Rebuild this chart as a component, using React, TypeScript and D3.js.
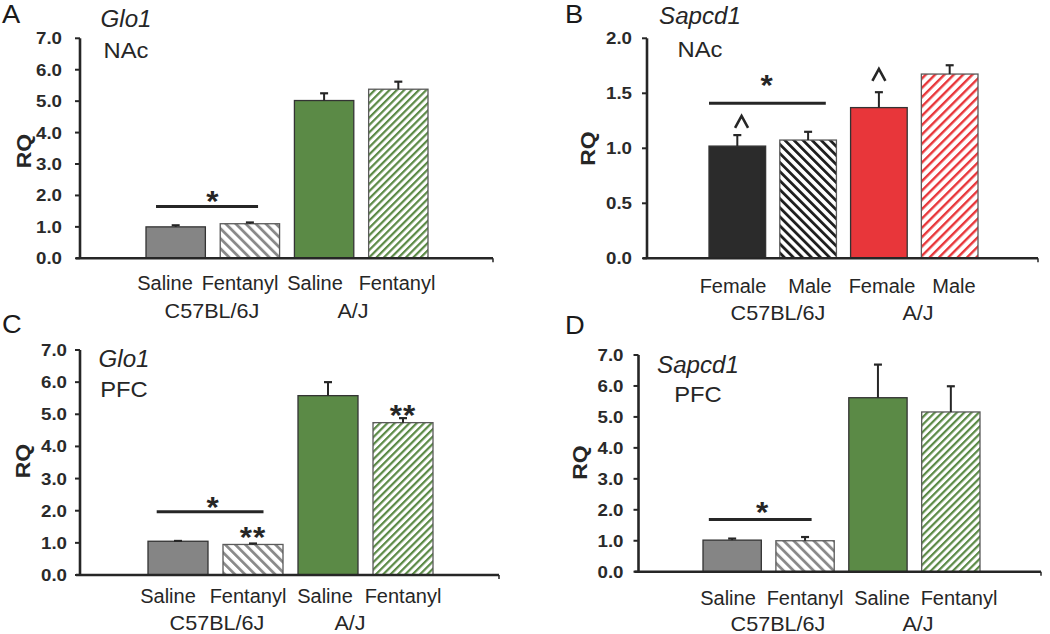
import React from "react";
import * as d3 from "d3";

// ---------- data ----------
const treatmentLabels = ["Saline", "Fentanyl", "Saline", "Fentanyl"];
const sexLabels = ["Female", "Male", "Female", "Male"];
const strainLabels = ["C57BL/6J", "A/J"];

const glo1NAcValues = [1.0, 1.1, 5.02, 5.38];
const glo1NAcErrors = [0.05, 0.04, 0.23, 0.24];
const sapcd1NAcValues = [1.02, 1.075, 1.37, 1.675];
const sapcd1NAcErrors = [0.1, 0.075, 0.14, 0.08];
const glo1PFCValues = [1.05, 0.95, 5.58, 4.74];
const glo1PFCErrors = [0.01, 0.03, 0.42, 0.14];
const sapcd1PFCValues = [1.02, 1.0, 5.62, 5.16];
const sapcd1PFCErrors = [0.05, 0.12, 1.07, 0.83];

const ticks0to7 = [0, 1, 2, 3, 4, 5, 6, 7];
const ticks0to2 = [0, 0.5, 1, 1.5, 2];

// ---------- styles ----------
const FONT = "'Liberation Sans', Arial, Helvetica, sans-serif";
const INK = "#262626";

type Fill = { color: string; hatch: string | null };
const greenFills: Fill[] = [
  { color: "#858585", hatch: null },
  { color: "url(#hGray)", hatch: "gray" },
  { color: "#5b8a46", hatch: null },
  { color: "url(#hGreen)", hatch: "green" },
];
const redFills: Fill[] = [
  { color: "#2b2b2b", hatch: null },
  { color: "url(#hBlack)", hatch: "black" },
  { color: "#e8363a", hatch: null },
  { color: "url(#hRed)", hatch: "red" },
];

type Ann =
  | { kind: "line"; u1: number; u2: number; v: number }
  | { kind: "mark"; text: string; u: number; v: number }
  | { kind: "caret"; u: number; v: number };

type PanelCfg = {
  letter: string;
  letterX: number;
  letterY: number;
  gene: string;
  region: string;
  annX: number;
  geneY: number;
  regionY: number;
  axisX: number;
  yTop: number;
  y0: number;
  xEnd: number;
  barL: number;
  barR: number;
  yMax: number;
  ticks: number[];
  tickGap: number;
  values: number[];
  errors: number[];
  cats: string[];
  fills: Fill[];
  labelX: number[];
  labelY: number;
  strainX: number[];
  strainY: number;
  rqX: number;
  rqY: number;
  anns: Ann[];
};

const panels: PanelCfg[] = [
  {
    letter: "A", letterX: 2, letterY: 23,
    gene: "Glo1", region: "NAc", annX: 126, geneY: 26.5, regionY: 57.5,
    axisX: 80, yTop: 38.3, y0: 258.3, xEnd: 493, barL: 146, barR: 428,
    yMax: 7, ticks: ticks0to7, tickGap: 18,
    values: glo1NAcValues, errors: glo1NAcErrors, cats: treatmentLabels, fills: greenFills,
    labelX: [165, 240, 315, 397], labelY: 290, strainX: [212, 353], strainY: 318,
    rqX: 24, rqY: 151,
    anns: [
      { kind: "line", u1: 0.135, u2: 1.51, v: 1.65 },
      { kind: "mark", text: "*", u: 0.9, v: 2.05 },
    ],
  },
  {
    letter: "B", letterX: 565, letterY: 22.5,
    gene: "Sapcd1", region: "NAc", annX: 700, geneY: 23.5, regionY: 56.5,
    axisX: 647, yTop: 38.3, y0: 258.3, xEnd: 1038, barL: 709, barR: 978,
    yMax: 2, ticks: ticks0to2, tickGap: 15,
    values: sapcd1NAcValues, errors: sapcd1NAcErrors, cats: sexLabels, fills: redFills,
    labelX: [733, 810, 882, 954], labelY: 293, strainX: [778, 918], strainY: 320,
    rqX: 588, rqY: 148.5,
    anns: [
      { kind: "line", u1: 0, u2: 1.65, v: 1.41 },
      { kind: "mark", text: "*", u: 0.82, v: 1.64 },
      { kind: "caret", u: 0.46, v: 1.24 },
      { kind: "caret", u: 2.4, v: 1.667 },
    ],
  },
  {
    letter: "C", letterX: 2, letterY: 333,
    gene: "Glo1", region: "PFC", annX: 124, geneY: 367, regionY: 397,
    axisX: 80, yTop: 350, y0: 575, xEnd: 499, barL: 148, barR: 433,
    yMax: 7, ticks: ticks0to7, tickGap: 13,
    values: glo1PFCValues, errors: glo1PFCErrors, cats: treatmentLabels, fills: greenFills,
    labelX: [168, 248, 325, 403], labelY: 603, strainX: [217, 350], strainY: 630,
    rqX: 22.5, rqY: 461,
    anns: [
      { kind: "line", u1: 0.116, u2: 1.54, v: 1.97 },
      { kind: "mark", text: "*", u: 0.87, v: 2.33 },
      { kind: "mark", text: "**", u: 1.4, v: 1.4 },
      { kind: "mark", text: "**", u: 3.4, v: 5.2 },
    ],
  },
  {
    letter: "D", letterX: 565, letterY: 334,
    gene: "Sapcd1", region: "PFC", annX: 698, geneY: 373, regionY: 402,
    axisX: 638.5, yTop: 355, y0: 571.7, xEnd: 1041, barL: 703, barR: 980,
    yMax: 7, ticks: ticks0to7, tickGap: 15,
    values: sapcd1PFCValues, errors: sapcd1PFCErrors, cats: treatmentLabels, fills: greenFills,
    labelX: [728, 805, 882, 959], labelY: 605, strainX: [778, 918], strainY: 631,
    rqX: 580, rqY: 462.5,
    anns: [
      { kind: "line", u1: 0.08, u2: 1.49, v: 1.69 },
      { kind: "mark", text: "*", u: 0.82, v: 2.15 },
    ],
  },
];

function SText(props: {
  x: number; y: number; sx?: number; size: number; anchor?: string;
  weight?: string; italic?: boolean; rotate?: number; fill?: string; ls?: number;
  children: React.ReactNode;
}) {
  const { x, y, sx = 1, size, anchor = "middle", weight = "normal", italic, rotate = 0, fill = INK, ls } = props;
  return (
    <text
      transform={`translate(${x},${y}) rotate(${rotate}) scale(${sx},1)`}
      textAnchor={anchor as any}
      fontFamily={FONT}
      fontSize={size}
      fontWeight={weight}
      fontStyle={italic ? "italic" : "normal"}
      fill={fill}
      letterSpacing={ls}
    >
      {props.children}
    </text>
  );
}

function Panel({ p }: { p: PanelCfg }) {
  const y = d3.scaleLinear().domain([0, p.yMax]).range([p.y0, p.yTop]);
  const x = d3
    .scaleBand<number>()
    .domain(d3.range(p.values.length))
    .range([p.barL, p.barR])
    .paddingInner(0.2)
    .paddingOuter(0);
  const step = x.step();
  const bw = x.bandwidth();
  const ux = (u: number) => p.barL + u * step;
  const fmt = d3.format(".1f");

  return (
    <g>
      <SText x={p.letterX} y={p.letterY} size={26} anchor="start" sx={1.05} fill="#1a1a1a">{p.letter}</SText>
      <SText x={p.annX} y={p.geneY} size={23} italic sx={1.05}>{p.gene}</SText>
      <SText x={p.annX} y={p.regionY} size={22} sx={1.08}>{p.region}</SText>

      {/* bars */}
      {p.values.map((v, i) => {
        const f = p.fills[i];
        const bx = x(i)!;
        return (
          <g key={i}>
            <rect
              x={bx}
              y={y(v)}
              width={bw}
              height={p.y0 - y(v)}
              fill={f.color}
              stroke={f.hatch ? "#5a5a5a" : "#333"}
              strokeWidth={1.3}
            />
            <line x1={bx + bw / 2} x2={bx + bw / 2} y1={y(v)} y2={y(v + p.errors[i])} stroke={INK} strokeWidth={2} />
            <line x1={bx + bw / 2 - 4} x2={bx + bw / 2 + 4} y1={y(v + p.errors[i])} y2={y(v + p.errors[i])} stroke={INK} strokeWidth={2.2} />
          </g>
        );
      })}

      {/* axes */}
      <line x1={p.axisX} x2={p.axisX} y1={p.yTop} y2={p.y0} stroke={INK} strokeWidth={2.6} />
      {p.ticks.map((t) => (
        <g key={t}>
          <line x1={p.axisX - 5} x2={p.axisX} y1={y(t)} y2={y(t)} stroke={INK} strokeWidth={2} />
          <SText x={p.axisX - p.tickGap} y={y(t) + 6} size={17} weight="bold" anchor="end" sx={1.1} fill="#2a2a2a">
            {fmt(t)}
          </SText>
        </g>
      ))}
      <line x1={p.axisX - 4} x2={p.xEnd} y1={p.y0} y2={p.y0} stroke={INK} strokeWidth={2.6} />
      <line x1={p.xEnd} x2={p.xEnd} y1={p.y0} y2={p.y0 + 4} stroke={INK} strokeWidth={1.5} />

      <SText x={p.rqX + 7} y={p.rqY} size={20} weight="bold" rotate={-90} sx={1.15}>RQ</SText>

      {/* annotations */}
      {p.anns.map((a, i) => {
        if (a.kind === "line")
          return <line key={i} x1={ux(a.u1)} x2={ux(a.u2)} y1={y(a.v)} y2={y(a.v)} stroke={INK} strokeWidth={3} />;
        if (a.kind === "caret") {
          const cx = ux(a.u);
          const cy = y(a.v);
          return (
            <polyline
              key={i}
              points={`${cx - 6.5},${cy + 6} ${cx},${cy - 6} ${cx + 6.5},${cy + 6}`}
              fill="none"
              stroke={INK}
              strokeWidth={2.6}
            />
          );
        }
        return (
          <SText key={i} x={ux(a.u)} y={y(a.v) + 17} size={30} weight="bold" sx={1.05} ls={1}>{a.text}</SText>
        );
      })}

      {/* category labels */}
      {p.cats.map((c, i) => (
        <SText key={i} x={p.labelX[i]} y={p.labelY} size={20} sx={1.0}>{c}</SText>
      ))}
      {strainLabels.map((s, i) => (
        <SText key={s} x={p.strainX[i]} y={p.strainY} size={20} sx={1.08}>{s}</SText>
      ))}
    </g>
  );
}

function Hatch({ id, color, period, thick, angle }: { id: string; color: string; period: number; thick: number; angle: number }) {
  return (
    <pattern id={id} patternUnits="userSpaceOnUse" width={period} height={period} patternTransform={`rotate(${angle})`}>
      <rect x={0} y={0} width={period} height={period} fill="#fff" />
      <rect x={0} y={0} width={thick} height={period} fill={color} />
    </pattern>
  );
}

export default function App() {
  return (
    <svg
      width={1050}
      height={634}
      viewBox="0 0 1050 634"
      style={{ position: "absolute", left: 0, top: 0, background: "#fff" }}
    >
      <defs>
        <Hatch id="hGray" color="#8a8a8a" period={7.1} thick={2.8} angle={-45} />
        <Hatch id="hGreen" color="#5b8a46" period={5.2} thick={2.2} angle={45} />
        <Hatch id="hBlack" color="#1f1f1f" period={6.4} thick={2.8} angle={-45} />
        <Hatch id="hRed" color="#e8363a" period={6.6} thick={2.4} angle={45} />
      </defs>
      <rect x={0} y={0} width={1050} height={634} fill="#fff" />
      {panels.map((p) => (
        <Panel key={p.letter} p={p} />
      ))}
    </svg>
  );
}
